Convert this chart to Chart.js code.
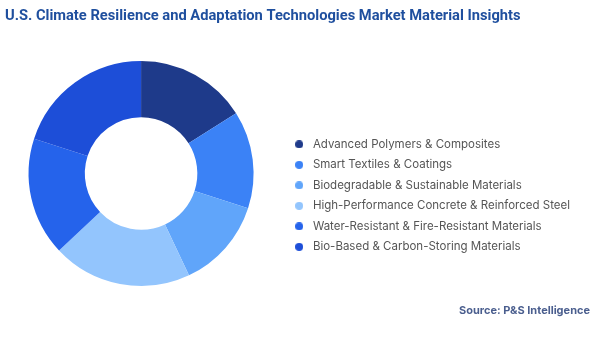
<!DOCTYPE html>
<html>
<head>
<meta charset="utf-8">
<script src="https://cdn.jsdelivr.net/npm/chart.js@4.4.8/dist/chart.umd.min.js"></script>
<style>
  html, body { margin: 0; padding: 0; background: #fff; }
  #wrap { width: 600px; height: 337px; }
</style>
</head>
<body>
<div id="wrap"><canvas id="materialChart" width="600" height="337"></canvas></div>
<script>
const chartTitle = "U.S. Climate Resilience and Adaptation Technologies Market Material Insights";
const sourceNote = "Source: P&S Intelligence";

const materials = [
  "Advanced Polymers & Composites",
  "Smart Textiles & Coatings",
  "Biodegradable & Sustainable Materials",
  "High-Performance Concrete & Reinforced Steel",
  "Water-Resistant & Fire-Resistant Materials",
  "Bio-Based & Carbon-Storing Materials"
];
const shares = [16, 14, 13, 20, 17, 20];
const sliceColors = ["#1e3a8a", "#3b82f6", "#60a5fa", "#93c5fd", "#2563eb", "#1d4ed8"];

function makeDot(color) {
  const c = document.createElement("canvas");
  c.width = 8;
  c.height = 8;
  const g = c.getContext("2d");
  g.fillStyle = color;
  g.beginPath();
  g.arc(4, 4, 4, 0, Math.PI * 2);
  g.fill();
  return c;
}

const defaultLabels = Chart.overrides.doughnut.plugins.legend.labels.generateLabels;

// title + source drawn as canvas text
const captions = {
  id: "captions",
  afterDraw(chart) {
    const ctx = chart.ctx;
    ctx.save();
    ctx.textBaseline = "alphabetic";
    ctx.fillStyle = "#1f4f9e";
    ctx.font = "700 14.7px Roboto";
    ctx.textAlign = "left";
    ctx.fillText(chartTitle, 5, 20);
    ctx.fillStyle = "#4a5e8e";
    ctx.font = "700 11px Inter";
    ctx.textAlign = "right";
    ctx.fillText(sourceNote, 590, 314);
    ctx.restore();
  }
};

new Chart(document.getElementById("materialChart"), {
  type: "doughnut",
  data: {
    labels: materials,
    datasets: [
      {
        data: shares,
        backgroundColor: sliceColors,
        borderWidth: 0,
        hoverOffset: 0
      }
    ]
  },
  options: {
    responsive: false,
    animation: false,
    cutout: "50%",
    layout: {
      padding: { left: 0, right: 20, top: 61, bottom: 51 }
    },
    plugins: {
      tooltip: { enabled: false },
      legend: {
        position: "right",
        align: "center",
        maxWidth: 400,
        title: {
          display: true,
          text: " ",
          font: { size: 1 },
          padding: { top: 43, bottom: 0 }
        },
        labels: {
          usePointStyle: true,
          pointStyleWidth: 16,
          padding: 9,
          color: "#555555",
          font: { family: "Inter", size: 11.5 },
          generateLabels(chart) {
            return defaultLabels(chart).map((item) => {
              item.pointStyle = makeDot(item.fillStyle);
              item.lineWidth = 0;
              return item;
            });
          }
        }
      }
    }
  },
  plugins: [captions]
});
</script>
</body>
</html>
